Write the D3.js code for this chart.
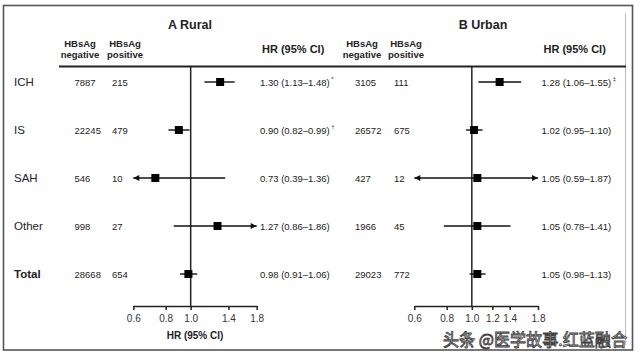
<!DOCTYPE html>
<html><head><meta charset="utf-8">
<script src="https://cdn.jsdelivr.net/npm/d3@7/dist/d3.min.js"></script>
<style>
html,body{margin:0;padding:0;background:#fff;}
svg{display:block;font-family:"Liberation Sans",Arial,sans-serif;}
</style></head>
<body>
<script>
const categories = ["ICH","IS","SAH","Other","Total"];
const ruralNeg = [7887,22245,546,998,28668];
const ruralPos = [215,479,10,27,654];
const ruralHR  = [1.30,0.90,0.73,1.27,0.98];
const ruralLo  = [1.13,0.82,0.39,0.86,0.91];
const ruralHi  = [1.48,0.99,1.36,1.86,1.06];
const ruralNote = ["*","†","","",""];
const urbanNeg = [3105,26572,427,1966,29023];
const urbanPos = [111,675,12,45,772];
const urbanHR  = [1.28,1.02,1.05,1.05,1.05];
const urbanLo  = [1.06,0.95,0.59,0.78,0.98];
const urbanHi  = [1.55,1.10,1.87,1.41,1.13];
const urbanNote = ["‡","","","",""];
const ruralTicks = [0.6,0.8,1.0,1.4,1.8];
const urbanTicks = [0.6,0.8,1.0,1.2,1.4,1.8];
const axisDomain = [0.6,1.8];

const W=640,H=357;
const svg=d3.select("body").append("svg").attr("width",W).attr("height",H);

// frame
svg.append("rect").attr("x",3.5).attr("y",5.5).attr("width",629).attr("height",344.5)
  .attr("fill","#fff").attr("stroke","#555").attr("stroke-width",1.6);
svg.append("line").attr("x1",625.5).attr("x2",625.5).attr("y1",13).attr("y2",345)
  .attr("stroke","#bbb").attr("stroke-width",1);

const y=d3.scalePoint().domain(categories).range([82,274]);
const fmt=d3.format(".2f");

// header line
svg.append("line").attr("x1",59).attr("x2",626).attr("y1",66.5).attr("y2",66.5)
  .attr("stroke","#222").attr("stroke-width",2);

// row labels
svg.selectAll("text.cat").data(categories).enter().append("text")
  .attr("x",14).attr("y",d=>y(d)+4).attr("font-size",11.5)
  .attr("font-weight",d=>d==="Total"?"bold":"normal").attr("fill","#222").text(d=>d);

function panel(cfg){
  const g=svg.append("g");
  const x=d3.scaleLog().domain(axisDomain).range(cfg.range);
  // title
  g.append("text").attr("x",cfg.titleX).attr("y",28.5).attr("text-anchor","middle")
    .attr("font-size",12.5).attr("font-weight","bold").attr("fill","#222").text(cfg.title);
  // column headers
  [[cfg.negHX,"negative"],[cfg.posHX,"positive"]].forEach(([cx,w])=>{
    g.append("text").attr("x",cx).attr("y",46.5).attr("text-anchor","middle")
      .attr("font-size",9.5).attr("font-weight","bold").attr("fill","#222").text("HBsAg");
    g.append("text").attr("x",cx).attr("y",57.5).attr("text-anchor","middle")
      .attr("font-size",9.5).attr("font-weight","bold").attr("fill","#222").text(w);
  });
  g.append("text").attr("x",cfg.hrX+2).attr("y",53).attr("font-size",11)
    .attr("font-weight","bold").attr("fill","#222").text("HR (95% CI)");
  // counts
  g.selectAll("text.neg").data(cfg.neg).enter().append("text")
    .attr("x",cfg.negX).attr("y",(d,i)=>y(categories[i])+3.5).attr("font-size",9.5)
    .attr("fill","#222").text(d=>d);
  g.selectAll("text.pos").data(cfg.pos).enter().append("text")
    .attr("x",cfg.posX).attr("y",(d,i)=>y(categories[i])+3.5).attr("font-size",9.5)
    .attr("fill","#222").text(d=>d);
  // HR text
  categories.forEach((c,i)=>{
    const t=g.append("text").attr("x",cfg.hrX).attr("y",y(c)+3.5).attr("font-size",9.5).attr("fill","#222");
    t.append("tspan").text(`${fmt(cfg.hr[i])} (${fmt(cfg.lo[i])}–${fmt(cfg.hi[i])})`);
    if(cfg.note[i]) t.append("tspan").attr("dy",-5).attr("dx",1.5).attr("font-size",6).text(cfg.note[i]);
  });
  // reference line
  g.append("line").attr("x1",x(1)).attr("x2",x(1)).attr("y1",66.5).attr("y2",306)
    .attr("stroke","#222").attr("stroke-width",1.5);
  // axis
  const ax=g.append("g").attr("transform","translate(0,306)")
    .call(d3.axisBottom(x).tickValues(cfg.ticks).tickFormat(d3.format(".1f")).tickSize(4).tickSizeOuter(0));
  ax.select(".domain").attr("stroke","#222").attr("stroke-width",1.5);
  ax.selectAll(".tick line").attr("stroke","#222").attr("stroke-width",1.5);
  ax.selectAll(".tick text").attr("font-size",10).attr("fill","#333")
    .attr("font-family","'Liberation Sans',Arial,sans-serif").attr("dy","0.9em");
  if(cfg.axisTitle){
    g.append("text").attr("x",cfg.axisTitleX).attr("y",339).attr("text-anchor","middle")
      .attr("font-size",10).attr("font-weight","bold").attr("fill","#222").text(cfg.axisTitle);
  }
  // CIs
  const [dmin,dmax]=axisDomain;
  categories.forEach((c,i)=>{
    const yy=y(c);
    const lo=Math.max(cfg.lo[i],dmin), hi=Math.min(cfg.hi[i],dmax);
    g.append("line").attr("x1",x(lo)).attr("x2",x(hi)).attr("y1",yy).attr("y2",yy)
      .attr("stroke","#111").attr("stroke-width",1.4);
    if(cfg.lo[i]<dmin){
      const ax0=x(dmin);
      g.append("path").attr("d",`M${ax0},${yy} l6,-3 l0,6 Z`).attr("fill","#111");
    }
    if(cfg.hi[i]>dmax){
      const ax1=x(dmax);
      g.append("path").attr("d",`M${ax1},${yy} l-6,-3 l0,6 Z`).attr("fill","#111");
    }
    g.append("rect").attr("x",x(cfg.hr[i])-4).attr("y",yy-4).attr("width",8).attr("height",8)
      .attr("fill","#000");
  });
}

panel({title:"A Rural",titleX:190,range:[133.3,256.7],negHX:80,posHX:125,negX:74.5,posX:112,hrX:260,
  neg:ruralNeg,pos:ruralPos,hr:ruralHR,lo:ruralLo,hi:ruralHi,note:ruralNote,ticks:ruralTicks,
  axisTitle:"HR (95% CI)",axisTitleX:195});
panel({title:"B Urban",titleX:483,range:[414.3,538],negHX:362,posHX:406,negX:355,posX:394,hrX:541.5,
  neg:urbanNeg,pos:urbanPos,hr:urbanHR,lo:urbanLo,hi:urbanHi,note:urbanNote,ticks:urbanTicks,
  axisTitle:null});

// watermark
svg.append("text").attr("x",443).attr("y",346).attr("font-size",17)
  .attr("font-family","'Noto Sans CJK SC',sans-serif").attr("textLength",184)
  .attr("lengthAdjust","spacingAndGlyphs")
  .attr("fill","#fff").attr("stroke","#444").attr("stroke-width",0.9).attr("paint-order","fill")
  .text("头条 @医学故事.红蓝融合");
</script>
</body></html>
